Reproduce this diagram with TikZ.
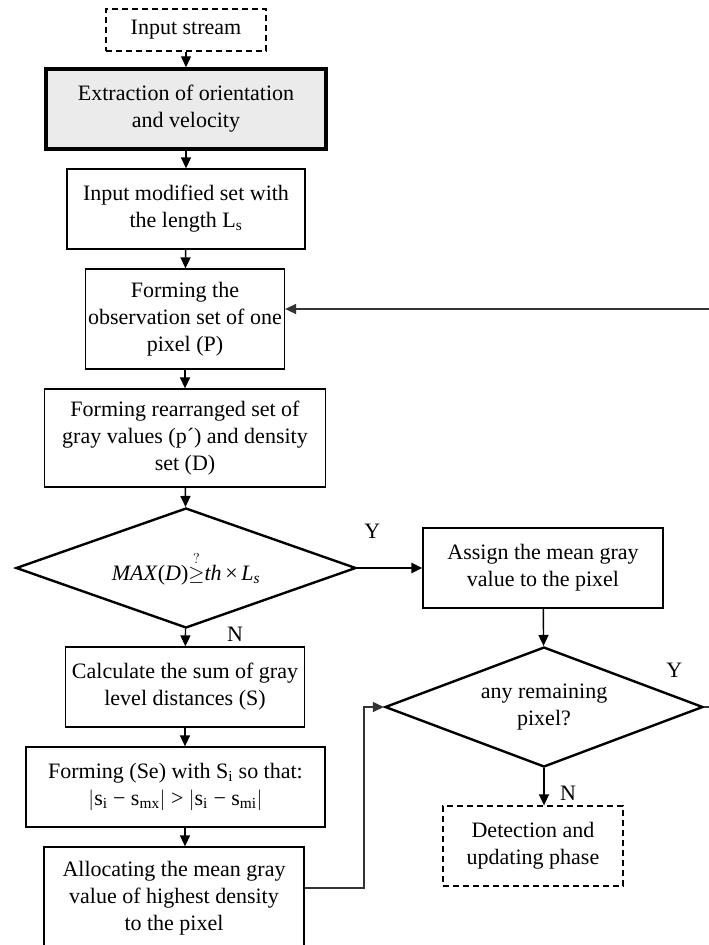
\documentclass[tikz,border=0pt]{standalone}
\usepackage{fontspec}
\setmainfont{Liberation Serif}
\usepackage{amsmath}
\usetikzlibrary{arrows.meta,shapes.geometric,positioning}

\begin{document}
\begin{tikzpicture}[x=1pt,y=-1pt,
  font=\fontsize{22}{27}\selectfont,
  box/.style={draw,line width=1.3pt,align=center,inner sep=2pt,minimum height=80pt},
  dashbox/.style={box,dash pattern=on 6pt off 4pt},
  dec/.style={draw,diamond,line width=2.4pt,inner sep=0pt,align=center,minimum height=120pt},
  arr/.style={line width=1.4pt,-{Triangle[length=11pt,width=10pt]}},
  lab/.style={inner sep=0pt}]
\clip (0,0) rectangle (709,945);
\fill[white] (0,0) rectangle (709,945);

\node[dashbox,minimum width=160pt,minimum height=42pt] (instream) at (186,30) {Input stream};
\node[box,line width=3.5pt,fill=black!8,minimum width=280pt] (extract) at (186,109) {Extraction of orientation\\and velocity};
\node[box,minimum width=238pt] (inmod) at (186,209) {Input modified set with\\the length L\textsubscript{s}};
\node[box,minimum width=199pt,minimum height=100pt] (obs) at (185,319) {Forming the\\observation set of one\\pixel (P)};
\node[box,minimum width=281pt,minimum height=98pt] (rearr) at (185,438) {Forming rearranged set of\\gray values (p´) and density\\set (D)};
\node[dec,minimum width=340pt,aspect=2.8] (dec1) at (186,568) {\textit{MAX}(\textit{D})$\stackrel{?}{\geq}$\textit{th}\,×\,\textit{L}\textsubscript{\textit{s}}};
\node[box,minimum width=240pt] (assign) at (543,568) {Assign the mean gray\\value to the pixel};
\node[dec,minimum width=318pt,aspect=2.65] (dec2) at (544,707) {any remaining\\pixel?};
\node[dashbox,minimum width=180pt] (detect) at (533,846) {Detection and\\updating phase};
\node[box,minimum width=239pt] (calc) at (185,687) {Calculate the sum of gray\\level distances (S)};
\node[box,minimum width=299pt] (se) at (175.5,787) {Forming (Se) with S\textsubscript{i} so that:\\$|$s\textsubscript{i} − s\textsubscript{mx}$|$ > $|$s\textsubscript{i} − s\textsubscript{mi}$|$};
\node[box,minimum width=260pt,minimum height=102pt] (alloc) at (174,898) {Allocating the mean gray\\value of highest density\\to the pixel};

\coordinate (loopL) at (364,707);
\coordinate (loopR) at (730,707);

\draw[arr] (instream) -- (extract);
\draw[arr] (extract) -- (inmod);
\draw[arr] (inmod) -- (obs);
\draw[arr] (obs) -- (rearr);
\draw[arr] (rearr) -- (dec1);
\draw[arr] (dec1) -- (calc);
\draw[arr,line width=2.6pt] (dec1) -- (assign);
\draw[arr] (calc.south) -- (calc.south |- se.north);
\draw[arr] (calc.south |- se.south) -- (calc.south |- alloc.north);
\draw[arr] (assign) -- (dec2);
\draw[arr] (dec2.south) -- (dec2.south |- detect.north);
\draw[arr,black!80] ([yshift=10pt]alloc.east) -| (loopL) -- (dec2.west);
\draw[arr,black!80] (dec2.east) -- (loopR) |- ([yshift=10pt]obs.east);

\node[lab] (y1) at ([xshift=15pt,yshift=37pt]dec1.east) {Y};
\node[lab] (n1) at ([xshift=49pt,yshift=-5pt]dec1.south) {N};
\node[lab] (y2) at ([xshift=-30pt,yshift=37pt]dec2.east) {Y};
\node[lab] (n2) at ([xshift=24pt,yshift=-25pt]dec2.south) {N};
\end{tikzpicture}
\end{document}
